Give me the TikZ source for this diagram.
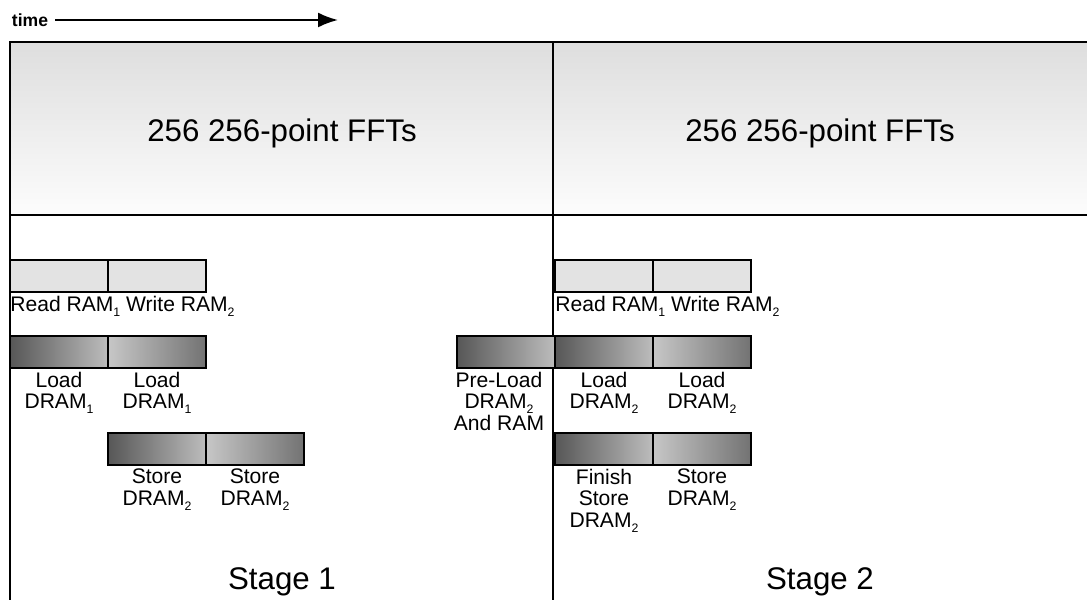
\documentclass[tikz,border=0pt]{standalone}
\usepackage{fontspec}
\setmainfont{Liberation Sans}
\usepackage{tikz}
\usetikzlibrary{arrows.meta,positioning}
\newcommand{\lowidx}[1]{\raisebox{-0.45ex}{\fontsize{7}{7}\selectfont #1}}
\tikzset{
  frame/.style={line width=1pt},
  cell/.style={draw, line width=0.9pt, minimum width=1.96cm, minimum height=0.64cm, inner sep=0pt, outer sep=0pt},
  ramcell/.style={cell, fill=black!11},
  dramdark/.style={cell, left color=black!66, right color=black!26},
  dramlite/.style={cell, left color=black!22, right color=black!55},
  lbl/.style={font=\fontsize{12}{12.2}\selectfont, align=center, inner sep=1pt},
  big/.style={font=\fontsize{17.8}{20}\selectfont}
}

\begin{document}
\begin{tikzpicture}[x=0.2mm, y=0.2mm, >=Latex]
  \useasboundingbox (0,0) rectangle (1087,-600);
  % time axis
  \node[font=\bfseries\fontsize{10}{10}\selectfont, inner sep=2pt, outer sep=2pt] (timelbl) at (30,-20) {time};
  \coordinate (timeend) at (338,-20);
  \draw[-{Latex[length=4mm, width=3mm]}, line width=1.2pt] (timelbl) -- (timeend);
  % frame and FFT band
  \shade[top color=black!13, bottom color=black!1] (10,-42) rectangle (1087,-215);
  \draw[frame] (10,-600) |- (1087,-42);
  \draw[frame] (10,-215) -- (1087,-215);
  \draw[frame] (553,-42) -- (553,-600);
  \node[big] (fft1) at (282,-133) {256 256-point FFTs};
  \node[big] (fft2) at (820,-133) {256 256-point FFTs};

  % stage 1
  \node[ramcell, anchor=north west] (rd1) at (10,-260) {};
  \node[ramcell, right=0pt of rd1] (wr1) {};
  \node[lbl, below=2pt of rd1.south west, anchor=north west, inner sep=0pt] (rw1) {Read RAM\lowidx{1} Write RAM\lowidx{2}};
  \node[dramdark, anchor=north west] (ldA1) at (10,-336) {};
  \node[dramlite, right=0pt of ldA1] (ldB1) {};
  \node[lbl, below=1pt of ldA1] {Load\\DRAM\lowidx{1}};
  \node[lbl, below=1pt of ldB1] {Load\\DRAM\lowidx{1}};
  \node[dramdark, below right=1.3cm and 0cm of ldB1.south west] (stA1) {};
  \node[dramlite, right=0pt of stA1] (stB1) {};
  \node[lbl, below=1pt of stA1] {Store\\DRAM\lowidx{2}};
  \node[lbl, below=1pt of stB1] {Store\\DRAM\lowidx{2}};
  \node[big] (stage1) at (282,-582) {Stage 1};

  % stage 2
  \node[ramcell, anchor=north west] (rd2) at (555,-260) {};
  \node[ramcell, right=0pt of rd2] (wr2) {};
  \node[lbl, below=2pt of rd2.south west, anchor=north west, inner sep=0pt] (rw2) {Read RAM\lowidx{1} Write RAM\lowidx{2}};
  \node[dramdark, anchor=north west] (ldA2) at (555,-336) {};
  \node[dramlite, right=0pt of ldA2] (ldB2) {};
  \node[dramdark, left=0pt of ldA2] (pre2) {};
  \node[lbl, inner sep=0pt, below=2pt of pre2, xshift=-4pt] {Pre-Load\\DRAM\lowidx{2}\\And RAM};
  \node[lbl, below=1pt of ldA2] {Load\\DRAM\lowidx{2}};
  \node[lbl, below=1pt of ldB2] {Load\\DRAM\lowidx{2}};
  \node[dramdark, below=1.3cm of ldA2] (stA2) {};
  \node[dramlite, right=0pt of stA2] (stB2) {};
  \node[lbl, below=1pt of stA2] {Finish\\Store\\DRAM\lowidx{2}};
  \node[lbl, below=1pt of stB2] {Store\\DRAM\lowidx{2}};
  \node[big] (stage2) at (820,-582) {Stage 2};
\end{tikzpicture}
\end{document}
